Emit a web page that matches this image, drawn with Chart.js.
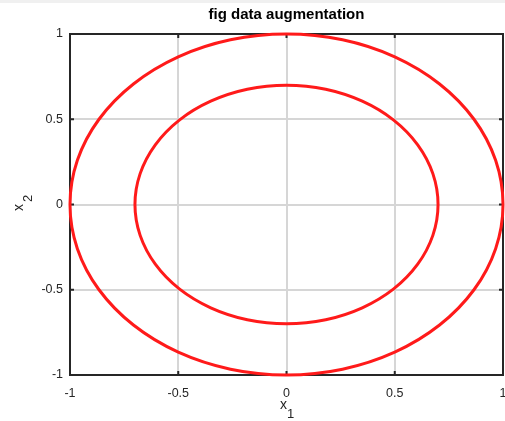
<!DOCTYPE html>
<html><head><meta charset="utf-8">
<script src="https://cdn.jsdelivr.net/npm/chart.js@4"></script>
<style>html,body{margin:0;padding:0;background:#fff}#wrap{width:505px;height:421px}</style>
</head><body><div id="wrap"><canvas id="c" width="505" height="421"></canvas></div>
<script>
const titleText = "fig data augmentation";
const xTicks = [-1, -0.5, 0, 0.5, 1];
const yTicks = [-1, -0.5, 0, 0.5, 1];
const outerX = [0.966,1,0.966,0.866,0.707,0.5,0.259,0,-0.259,-0.5,-0.707,-0.866,-0.966,-1,-0.966,-0.866,-0.707,-0.5,-0.259,0,0.259,0.5,0.707,0.866,0.966,1,0.966];
const outerY = [-0.259,0,0.259,0.5,0.707,0.866,0.966,1,0.966,0.866,0.707,0.5,0.259,0,-0.259,-0.5,-0.707,-0.866,-0.966,-1,-0.966,-0.866,-0.707,-0.5,-0.259,0,0.259];
const innerX = [0.676,0.7,0.676,0.606,0.495,0.35,0.181,0,-0.181,-0.35,-0.495,-0.606,-0.676,-0.7,-0.676,-0.606,-0.495,-0.35,-0.181,0,0.181,0.35,0.495,0.606,0.676,0.7,0.676];
const innerY = [-0.181,0,0.181,0.35,0.495,0.606,0.676,0.7,0.676,0.606,0.495,0.35,0.181,0,-0.181,-0.35,-0.495,-0.606,-0.676,-0.7,-0.676,-0.606,-0.495,-0.35,-0.181,0,0.181];

const toPts = (xs, ys) => xs.map((x, i) => ({x: x, y: ys[i]}));
const FONT = "'Liberation Sans', Arial, Helvetica, sans-serif";
const INK = '#262626';
const RED = '#ff1a1a';
const hideEnds = n => ({
  borderColor: c => (c.p0DataIndex === 0 || c.p1DataIndex === n - 1) ? 'rgba(0,0,0,0)' : RED
});

const deco = {
  id: 'deco',
  beforeDraw(chart) {
    const ctx = chart.ctx;
    ctx.save();
    ctx.fillStyle = '#fff';
    ctx.fillRect(0, 0, chart.width, chart.height);
    ctx.fillStyle = '#f0f0f0';
    ctx.fillRect(0, 0, chart.width, 3);
    ctx.restore();
  },
  beforeDatasetsDraw(chart) {
    const ctx = chart.ctx, a = chart.chartArea;
    const xs = chart.scales.x, ys = chart.scales.y;
    ctx.save();
    ctx.strokeStyle = INK;
    ctx.lineWidth = 2;
    xTicks.forEach(v => {
      const px = xs.getPixelForValue(v);
      ctx.beginPath(); ctx.moveTo(px, a.bottom); ctx.lineTo(px, a.bottom - 4); ctx.stroke();
      ctx.beginPath(); ctx.moveTo(px, a.top); ctx.lineTo(px, a.top + 4); ctx.stroke();
    });
    yTicks.forEach(v => {
      const py = ys.getPixelForValue(v);
      ctx.beginPath(); ctx.moveTo(a.left, py); ctx.lineTo(a.left + 4, py); ctx.stroke();
      ctx.beginPath(); ctx.moveTo(a.right, py); ctx.lineTo(a.right - 4, py); ctx.stroke();
    });
    ctx.strokeRect(a.left, a.top, a.right - a.left, a.bottom - a.top);
    ctx.restore();
  },
  afterDraw(chart) {
    const ctx = chart.ctx, a = chart.chartArea;
    ctx.save();
    ctx.fillStyle = '#000';
    ctx.textAlign = 'center';
    ctx.textBaseline = 'middle';
    ctx.font = 'bold 15px ' + FONT;
    ctx.fillText(titleText, (a.left + a.right) / 2, 15);
    ctx.fillStyle = INK;
    ctx.font = '14px ' + FONT;
    const cx = (a.left + a.right) / 2;
    ctx.fillText('x', cx - 3, 405);
    ctx.font = '13px ' + FONT;
    ctx.fillText('1', cx + 4, 414);
    ctx.translate(19, (a.top + a.bottom) / 2);
    ctx.rotate(-Math.PI / 2);
    ctx.font = '14px ' + FONT;
    ctx.fillText('x', -3, 0);
    ctx.font = '13px ' + FONT;
    ctx.fillText('2', 6, 9);
    ctx.restore();
  }
};

new Chart(document.getElementById('c'), {
  type: 'scatter',
  data: {
    datasets: [
      {data: toPts(outerX, outerY), showLine: true, borderColor: RED, borderWidth: 3, pointRadius: 0, tension: 0.333, fill: false, clip: 6, segment: hideEnds(outerX.length)},
      {data: toPts(innerX, innerY), showLine: true, borderColor: RED, borderWidth: 3, pointRadius: 0, tension: 0.333, fill: false, clip: 6, segment: hideEnds(innerX.length)}
    ]
  },
  options: {
    responsive: false,
    animation: false,
    events: [],
    layout: {padding: {top: 34, right: 2, left: 0, bottom: 0}},
    plugins: {legend: {display: false}, tooltip: {enabled: false}, title: {display: false}},
    scales: {
      x: {
        type: 'linear', min: -1, max: 1,
        afterBuildTicks: s => { s.ticks = xTicks.map(v => ({value: v})); },
        afterFit: s => { s.height = 46; s.paddingLeft = 0; s.paddingRight = 0; },
        grid: {color: '#d6d6d6', lineWidth: 2, drawTicks: false},
        border: {display: false},
        ticks: {padding: 11, color: INK, font: {family: FONT, size: 12.5}, maxRotation: 0, autoSkip: false, callback: v => String(v)}
      },
      y: {
        type: 'linear', min: -1, max: 1,
        afterBuildTicks: s => { s.ticks = yTicks.map(v => ({value: v})); },
        afterFit: s => { s.width = 70; s.paddingTop = 0; s.paddingBottom = 0; },
        grid: {color: '#d6d6d6', lineWidth: 2, drawTicks: false},
        border: {display: false},
        ticks: {padding: 7, color: INK, font: {family: FONT, size: 12.5}, autoSkip: false, callback: v => String(v)}
      }
    }
  },
  plugins: [deco]
});
</script>
</body></html>
